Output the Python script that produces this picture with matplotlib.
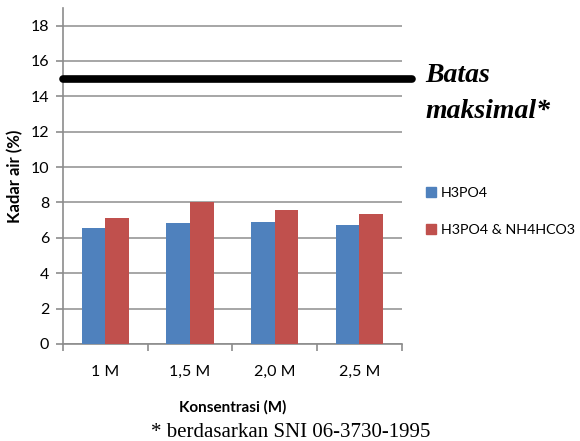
import matplotlib
matplotlib.use("Agg")
import matplotlib.pyplot as plt
import numpy as np
from matplotlib.patches import Patch

categories = ["1 M", "1,5 M", "2,0 M", "2,5 M"]
h3po4 = [6.57, 6.85, 6.9, 6.75]
h3po4_nh4hco3 = [7.1, 8.0, 7.55, 7.37]
batas = 15
yticks = [0, 2, 4, 6, 8, 10, 12, 14, 16, 18]

plt.rcParams['font.family'] = ['Lato', 'DejaVu Sans']

fig = plt.figure(figsize=(5.8, 4.41), dpi=100)
ax = fig.add_axes([0.1086, 0.22, 0.584, 0.762])

x = np.arange(len(categories))
w = 0.28
ax.bar(x - w / 2, h3po4, w, color="#4F81BD", label="H3PO4", zorder=3)
ax.bar(x + w / 2, h3po4_nh4hco3, w, color="#C0504D", label="H3PO4 & NH4HCO3", zorder=3)

ax.set_xlim(-0.5, 3.5)
ax.set_ylim(0, 19)
ax.set_yticks(yticks)
ax.yaxis.grid(True, color="#A6A6A6", linewidth=1.4, zorder=0)
ax.set_axisbelow(True)

# Limit line, running slightly past the plot area
ax.plot([-0.5, 3.62], [batas, batas], color="black", linewidth=5.5,
        solid_capstyle="round", clip_on=False, zorder=5)

for s in ["top", "right"]:
    ax.spines[s].set_visible(False)
for s in ["left", "bottom"]:
    ax.spines[s].set_color("#8C8C8C")
    ax.spines[s].set_linewidth(1.2)

ax.set_xticks(x)
ax.set_xticklabels(categories, fontsize=11.5)
ax.set_xticks(np.arange(-0.5, 3.6, 1), minor=True)
ax.tick_params(axis="x", which="major", length=0, pad=15)
ax.tick_params(axis="x", which="minor", length=5, color="#8C8C8C", width=1.2)
ax.tick_params(axis="y", length=5, color="#8C8C8C", width=1.2, labelsize=11.5, pad=5)

ax.set_xlabel("Konsentrasi (M)", fontsize=11, fontweight="bold", labelpad=15)
ax.set_ylabel("Kadar air (%)", fontsize=12, fontweight="bold", labelpad=5)

fig.legend(handles=[Patch(color="#4F81BD"), Patch(color="#C0504D")],
           labels=["H3PO4", "H3PO4 & NH4HCO3"],
           loc="upper left", bbox_to_anchor=(0.725, 0.588), frameon=False,
           fontsize=10.3, handlelength=0.7, handleheight=0.7, handletextpad=0.3,
           labelspacing=1.75, borderaxespad=0)

serif_bi = dict(family="Liberation Serif", style="italic", fontweight="bold",
                fontsize=20, ha="left", va="baseline")
fig.text(0.734, 0.814, "Batas", **serif_bi)
fig.text(0.734, 0.732, "maksimal*", **serif_bi)

fig.text(0.502, 0.02, "* berdasarkan SNI 06-3730-1995", family="Liberation Serif",
         fontsize=15, ha="center", va="center")

fig.savefig("out.png", dpi=100)
